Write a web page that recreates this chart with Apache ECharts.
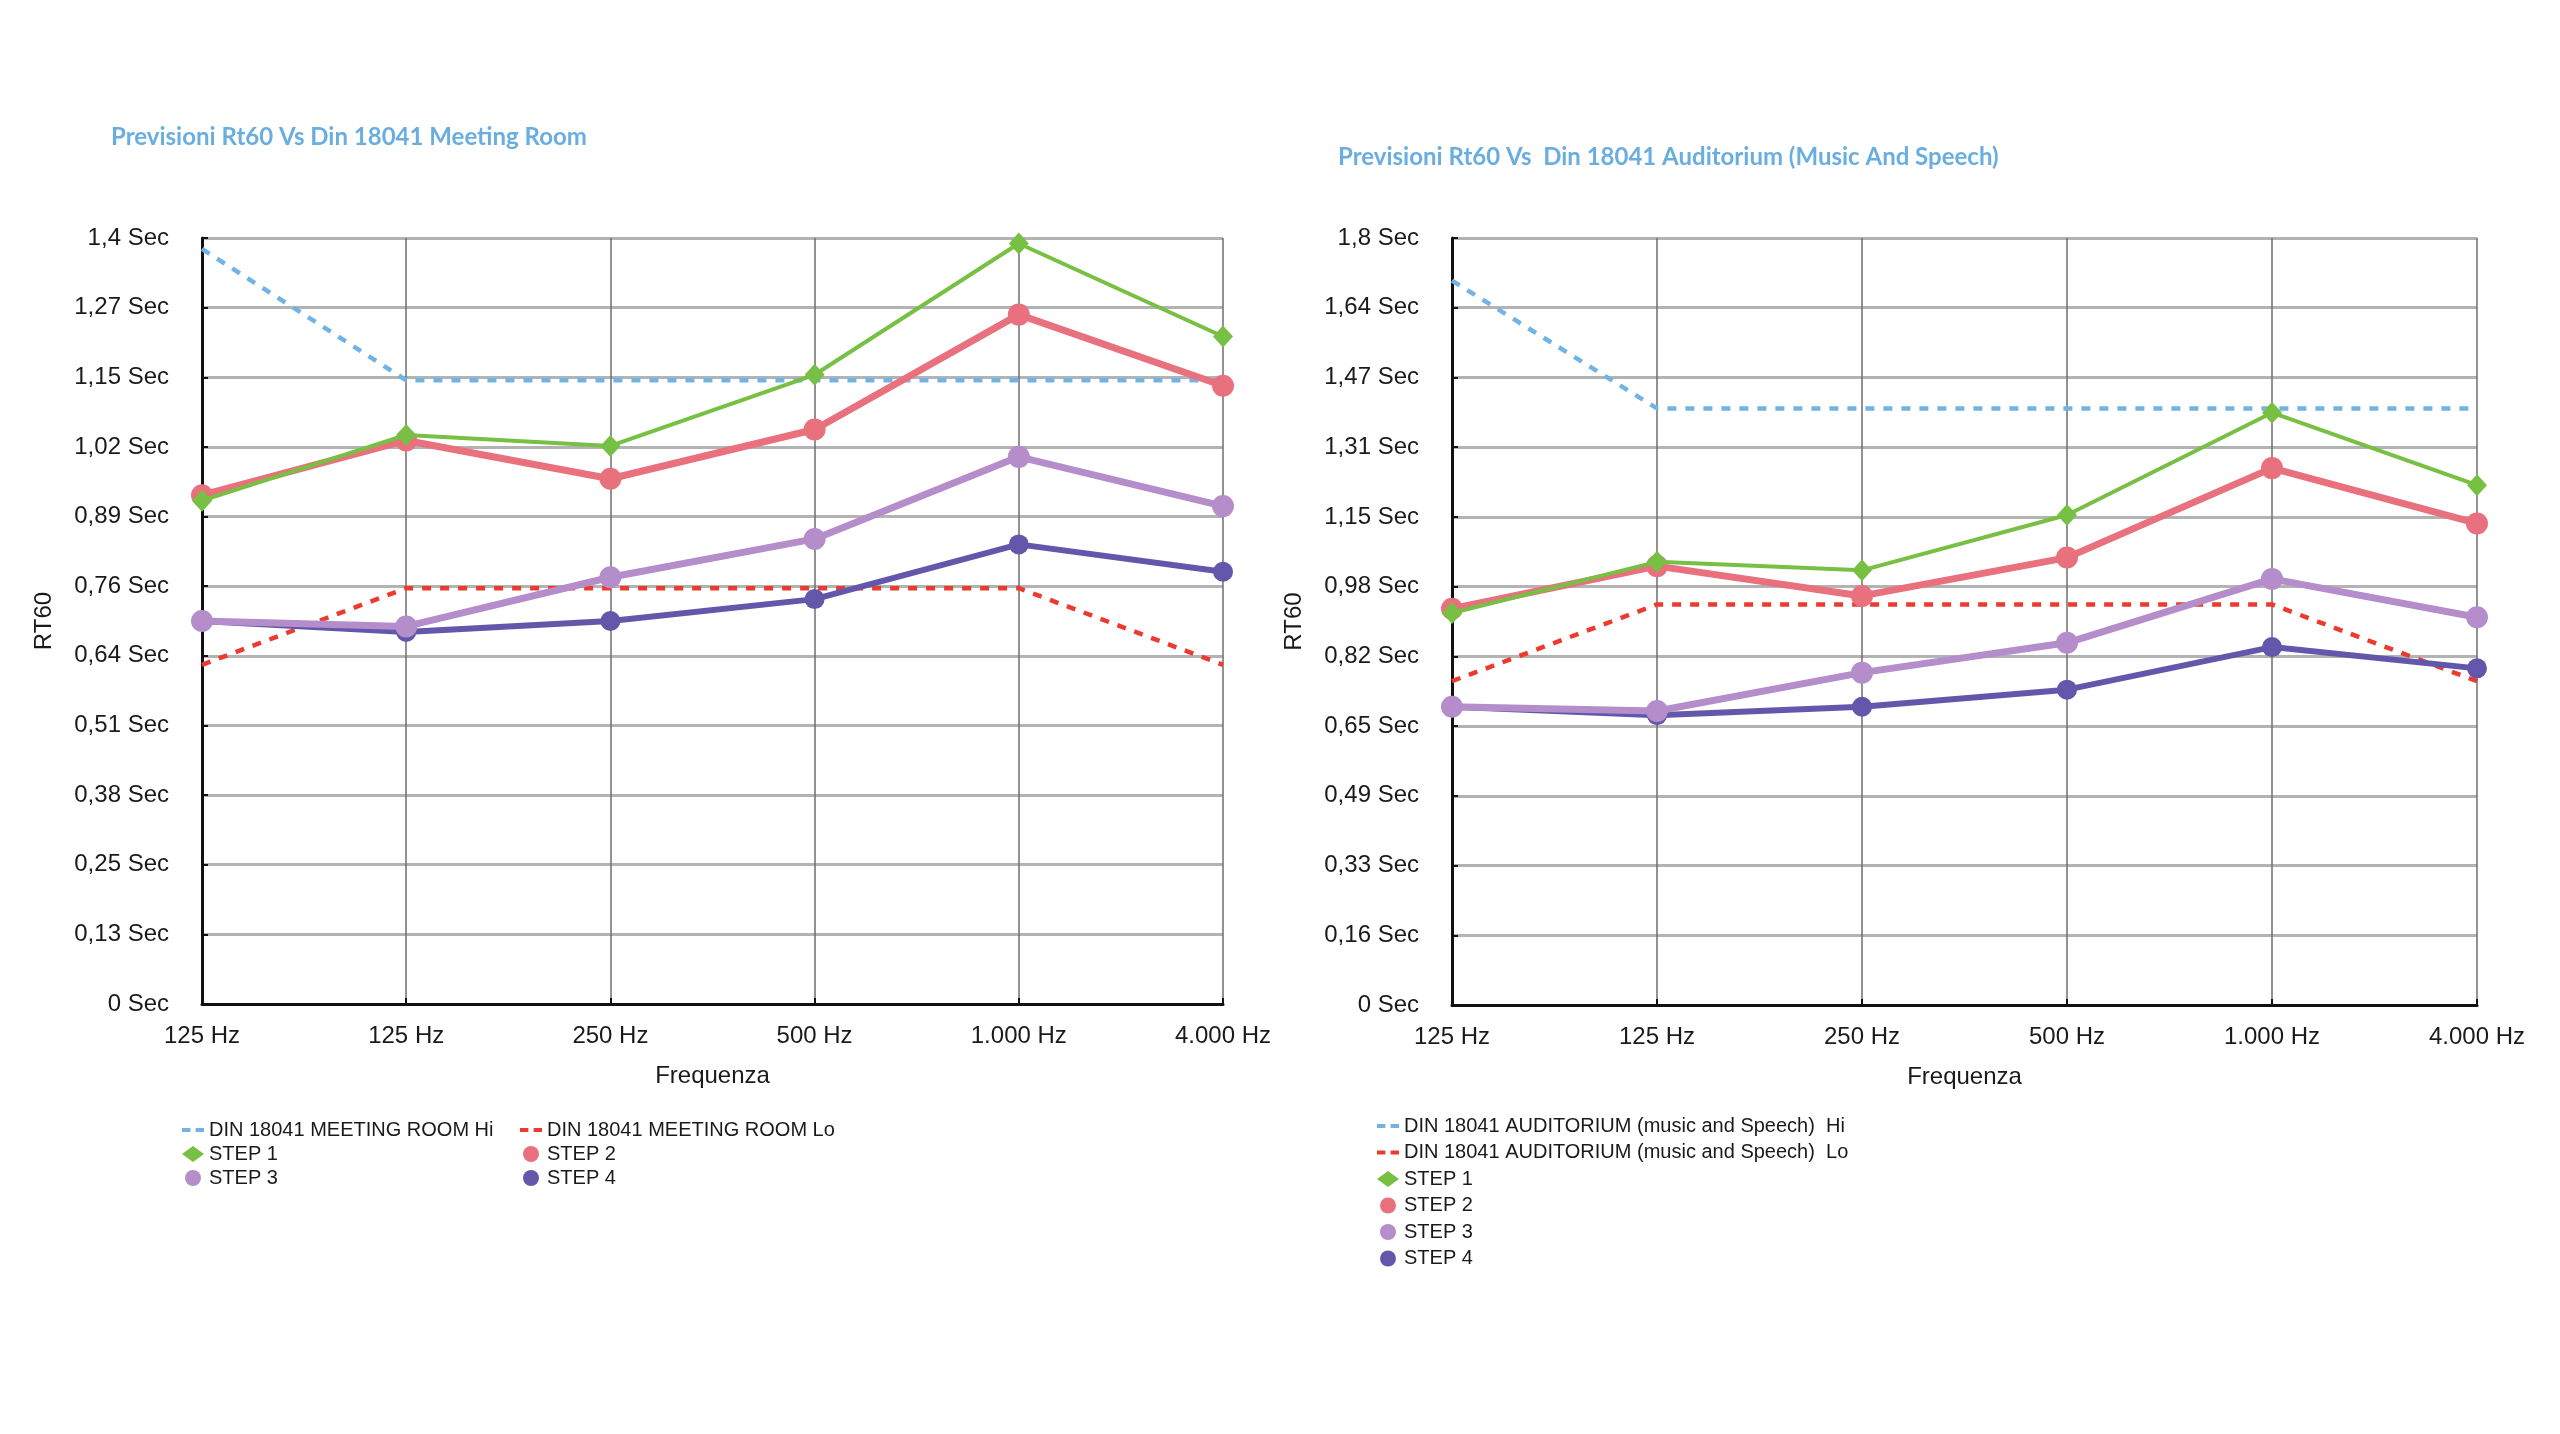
<!DOCTYPE html>
<html>
<head>
    <meta http-equiv="Content-Type" content="text/html; charset=UTF-8">
    <title>Previsioni Rt60</title>
    <script src="https://cdn.jsdelivr.net/npm/echarts@6/dist/echarts.min.js"></script>
    <style>
        html, body { margin: 0; padding: 0; background: #fff; }
        #rt60 { width: 2560px; height: 1434px; }
    </style>
</head>
<body>
<div id="rt60"></div>

<script type="text/javascript">
    // frequenze (la prima e' ripetuta come nell'originale)
    var categories = ['125 Hz', '125 Hz', '250 Hz', '500 Hz', '1.000 Hz', '4.000 Hz'];

    // limiti DIN 18041
    var meetingHi = [1.38, 1.14, 1.14, 1.14, 1.14, 1.14];
    var meetingLo = [0.62, 0.76, 0.76, 0.76, 0.76, 0.62];
    var auditHi = [1.70, 1.40, 1.40, 1.40, 1.40, 1.40];
    var auditLo = [0.76, 0.94, 0.94, 0.94, 0.94, 0.76];

    // previsioni per step
    var step1 = [0.92, 1.04, 1.02, 1.15, 1.39, 1.22];
    var step2 = [0.93, 1.03, 0.96, 1.05, 1.26, 1.13];
    var step3 = [0.70, 0.69, 0.78, 0.85, 1.00, 0.91];
    var step4 = [0.70, 0.68, 0.70, 0.74, 0.84, 0.79];

    // etichette asse y
    var meetingMax = 1.4;
    var meetingTicks = ['0 Sec', '0,13 Sec', '0,25 Sec', '0,38 Sec', '0,51 Sec', '0,64 Sec',
        '0,76 Sec', '0,89 Sec', '1,02 Sec', '1,15 Sec', '1,27 Sec', '1,4 Sec'];
    var auditMax = 1.8;
    var auditTicks = ['0 Sec', '0,16 Sec', '0,33 Sec', '0,49 Sec', '0,65 Sec', '0,82 Sec',
        '0,98 Sec', '1,15 Sec', '1,31 Sec', '1,47 Sec', '1,64 Sec', '1,8 Sec'];

    var FONT = '"Liberation Sans", Arial, Helvetica, sans-serif';
    var TXT = '#1a1a1a';
    var C_HI = '#72b3e6', C_LO = '#ec3a2f';
    var C_S1 = '#77c043', C_S2 = '#e9717e', C_S3 = '#b48dca', C_S4 = '#6257aa';
    // icona legenda "- -" per le linee tratteggiate
    var DASH_ICON = 'path://M0,0 h8 v4 h-8 z M13,0 h8 v4 h-8 z';

    function xAxisFor(idx) {
        return {
            type: 'category', gridIndex: idx, data: categories, boundaryGap: false,
            name: 'Frequenza', nameLocation: 'middle', nameGap: 60,
            nameTextStyle: { fontFamily: FONT, fontSize: 24, color: TXT },
            axisLine: { lineStyle: { color: '#111', width: 3 } },
            axisTick: { inside: true, length: 6, lineStyle: { color: '#111', width: 2 } },
            axisLabel: { fontFamily: FONT, fontSize: 24, color: TXT, margin: 20, interval: 0 },
            splitLine: { show: true, lineStyle: { color: '#6e6e6e', width: 1.5 } }
        };
    }

    function yAxisFor(idx, max, ticks) {
        var step = max / (ticks.length - 1);
        return {
            type: 'value', gridIndex: idx, min: 0, max: max, interval: step,
            name: 'RT60', nameLocation: 'middle', nameGap: 146,
            nameTextStyle: { fontFamily: FONT, fontSize: 24, color: TXT },
            axisLine: { show: true, lineStyle: { color: '#111', width: 3 } },
            axisTick: { show: true, inside: true, length: 6, lineStyle: { color: '#111', width: 2 } },
            axisLabel: {
                fontFamily: FONT, fontSize: 24, color: TXT, margin: 33,
                formatter: function (v) { return ticks[Math.round(v / step)]; }
            },
            splitLine: { show: true, lineStyle: { color: '#b3b3b3', width: 3 } }
        };
    }

    function dashed(name, idx, data, color) {
        return {
            name: name, type: 'line', xAxisIndex: idx, yAxisIndex: idx, data: data,
            symbol: 'none', color: color, z: 2,
            itemStyle: { color: color },
            lineStyle: { color: color, width: 4.5, type: [9, 9] }
        };
    }

    function step(name, idx, data, color, symbol, size, width, z) {
        return {
            name: name, type: 'line', xAxisIndex: idx, yAxisIndex: idx, data: data,
            symbol: symbol, symbolSize: size, showSymbol: true, color: color, z: z,
            itemStyle: { color: color },
            lineStyle: { color: color, width: width }
        };
    }

    function legendFor(left, top, gap, items) {
        return {
            orient: 'vertical', left: left, top: top, itemGap: gap,
            itemWidth: 22, itemHeight: 16, selectedMode: false,
            textStyle: { fontFamily: FONT, fontSize: 20, color: TXT, lineHeight: 22 },
            data: items
        };
    }

    var hiM = 'DIN 18041 MEETING ROOM Hi', loM = 'DIN 18041 MEETING ROOM Lo';
    var hiA = 'DIN 18041 AUDITORIUM (music and Speech)  Hi', loA = 'DIN 18041 AUDITORIUM (music and Speech)  Lo';
    var titleStyle = { fontFamily: 'Lato, "Open Sans", sans-serif', fontWeight: 'bold', fontSize: 24, color: '#6aaee0' };

    var chart = echarts.init(document.getElementById('rt60'));
    chart.setOption({
        backgroundColor: '#fff',
        animation: false,
        title: [
            { text: 'Previsioni Rt60 Vs Din 18041 Meeting Room', left: 106, top: 120, textStyle: titleStyle },
            { text: 'Previsioni Rt60 Vs  Din 18041 Auditorium (Music And Speech)', left: 1333, top: 140, textStyle: titleStyle }
        ],
        grid: [
            { left: 202, top: 238, width: 1021, height: 766 },
            { left: 1452, top: 238, width: 1025, height: 767 }
        ],
        xAxis: [xAxisFor(0), xAxisFor(1)],
        yAxis: [yAxisFor(0, meetingMax, meetingTicks), yAxisFor(1, auditMax, auditTicks)],
        legend: [
            legendFor(177, 1114, 2, [{ name: hiM, icon: DASH_ICON }, { name: 'STEP 1', icon: 'diamond' }, { name: 'STEP 3', icon: 'circle' }]),
            legendFor(515, 1114, 2, [{ name: loM, icon: DASH_ICON }, { name: 'STEP 2', icon: 'circle' }, { name: 'STEP 4', icon: 'circle' }]),
            legendFor(1372, 1110, 4.5, [{ name: hiA, icon: DASH_ICON }, { name: loA, icon: DASH_ICON },
                { name: 'STEP 1', icon: 'diamond' }, { name: 'STEP 2', icon: 'circle' },
                { name: 'STEP 3', icon: 'circle' }, { name: 'STEP 4', icon: 'circle' }])
        ],
        series: [
            dashed(hiM, 0, meetingHi, C_HI),
            dashed(loM, 0, meetingLo, C_LO),
            step('STEP 4', 0, step4, C_S4, 'circle', 20, 6, 3),
            step('STEP 3', 0, step3, C_S3, 'circle', 22, 7, 4),
            step('STEP 2', 0, step2, C_S2, 'circle', 22, 7, 5),
            step('STEP 1', 0, step1, C_S1, 'diamond', [20, 22], 4, 6),

            dashed(hiA, 1, auditHi, C_HI),
            dashed(loA, 1, auditLo, C_LO),
            step('STEP 4', 1, step4, C_S4, 'circle', 20, 6, 3),
            step('STEP 3', 1, step3, C_S3, 'circle', 22, 7, 4),
            step('STEP 2', 1, step2, C_S2, 'circle', 22, 7, 5),
            step('STEP 1', 1, step1, C_S1, 'diamond', [20, 22], 4, 6)
        ]
    });
</script>

</body>
</html>
